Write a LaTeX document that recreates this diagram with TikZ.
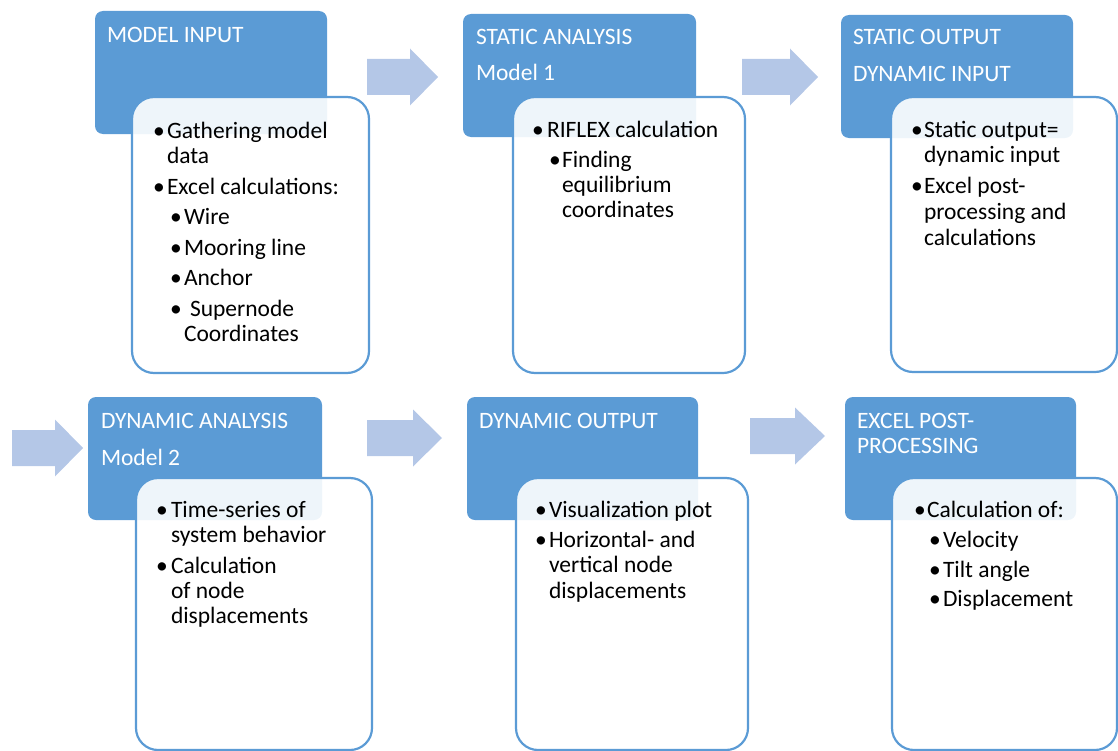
\documentclass[tikz,border=0pt]{standalone}
\usepackage{fontspec}
\setmainfont{Carlito}
\definecolor{boxblue}{HTML}{5B9BD5}
\definecolor{arrowblue}{HTML}{B4C7E7}
% one line of text, placed by its baseline start
\newcommand\tline[4]{\node[txt] (#1) at (#2,#3) {#4};}
% a title line in a blue header box
\newcommand\headline[4]{\node[ttl] (#1) at (#2,#3) {#4};}
% a bullet glyph
\newcommand\bul[3]{\node[txt] (#1) at (#2,#3) {\textbullet};}
% block arrow: shaft start, head start, tip, centre line
\newcommand\blockarrow[4]{%
  \fill[arrowblue] (#1,#4-18) -- (#2,#4-18) -- (#2,#4-28.5) -- (#3,#4)
    -- (#2,#4+28.5) -- (#2,#4+18) -- (#1,#4+18) -- cycle;}
\begin{document}
\begin{tikzpicture}[x=1bp,y=-1bp,
  bluebox/.style={fill=boxblue, rounded corners=8bp, anchor=north west,
    inner sep=0pt, outer sep=0pt, minimum width=232bp, minimum height=123bp},
  whitebox/.style={draw=boxblue, line width=2.2bp, fill=white, fill opacity=0.9,
    draw opacity=1, rounded corners=22bp, anchor=north west, inner sep=0pt,
    outer sep=0pt, minimum width=236bp},
  txt/.style={anchor=base west, inner sep=0pt, outer sep=0pt, text=black,
    font=\fontsize{23.5bp}{28bp}\selectfont},
  ttl/.style={txt, text=white}]
\useasboundingbox (0,0) rectangle (1118,751);

% header boxes
\node[bluebox] (b1) at (95,11) {};
\node[bluebox, minimum width=233bp] (b2) at (463,14) {};
\node[bluebox] (b3) at (841,15) {};
\node[bluebox, minimum width=234bp] (b4) at (88,397) {};
\node[bluebox, minimum width=231bp] (b5) at (467,397) {};
\node[bluebox, minimum width=231bp] (b6) at (845,397) {};

% header titles
\headline{t1}{107}{43}{MODEL INPUT}
\headline{t2a}{476}{45}{STATIC ANALYSIS}
\headline{t2b}{476}{81}{Model 1}
\headline{t3a}{853}{45}{STATIC OUTPUT}
\headline{t3b}{853}{82}{DYNAMIC INPUT}
\headline{t4a}{101}{428}{DYNAMIC ANALYSIS}
\headline{t4b}{101}{465}{Model 2}
\headline{t5}{479}{428}{DYNAMIC OUTPUT}
\headline{t6a}{857}{428}{EXCEL POST-}
\headline{t6b}{857}{453}{PROCESSING}

% flow arrows
\blockarrow{367}{410}{438}{77}
\blockarrow{742}{790}{818}{77}
\blockarrow{12}{55}{83}{448}
\blockarrow{367}{413}{442}{438}
\blockarrow{750}{795}{825}{436}

% content boxes
\node[whitebox, minimum width=237bp, minimum height=276bp] (w1) at (132,97) {};
\node[whitebox, minimum width=232bp, minimum height=276bp] (w2) at (513,97) {};
\node[whitebox, minimum width=226bp, minimum height=275bp] (w3) at (891,97) {};
\node[whitebox, minimum width=236bp, minimum height=272bp] (w4) at (136,478) {};
\node[whitebox, minimum width=232bp, minimum height=272bp] (w5) at (516,478) {};
\node[whitebox, minimum width=225bp, minimum height=272bp] (w6) at (892,478) {};

% content of box 1
\bul{p1a}{153}{138.5}
\tline{l1a}{167}{138.5}{Gathering model}
\tline{l1b}{167}{163.5}{data}
\bul{p1c}{153}{194}
\tline{l1c}{167}{194}{Excel calculations:}
\bul{p1d}{170}{224.5}
\tline{l1d}{184}{224.5}{Wire}
\bul{p1e}{170}{255}
\tline{l1e}{184}{255}{Mooring line}
\bul{p1f}{170}{285.5}
\tline{l1f}{184}{285.5}{Anchor}
\bul{p1g}{170}{316}
\tline{l1g}{190}{316}{Supernode}
\tline{l1h}{184}{341.5}{Coordinates}

% content of box 2
\bul{p2a}{532}{137}
\tline{l2a}{547}{137}{RIFLEX calculation}
\bul{p2b}{549}{167.5}
\tline{l2b}{562}{167.5}{Finding}
\tline{l2c}{562}{192.5}{equilibrium}
\tline{l2d}{562}{217}{coordinates}

% content of box 3
\bul{p3a}{911}{137}
\tline{l3a}{924}{137}{Static output=}
\tline{l3b}{924}{162}{dynamic input}
\bul{p3c}{911}{193}
\tline{l3c}{924}{193}{Excel post-}
\tline{l3d}{924}{219}{processing and}
\tline{l3e}{924}{245}{calculations}

% content of box 4
\bul{p4a}{156}{517}
\tline{l4a}{171}{517}{Time-series of}
\tline{l4b}{171}{542}{system behavior}
\bul{p4c}{156}{573}
\tline{l4c}{171}{573}{Calculation}
\tline{l4d}{171}{598}{of node}
\tline{l4e}{171}{623}{displacements}

% content of box 5
\bul{p5a}{535}{517}
\tline{l5a}{549}{517}{Visualization plot}
\bul{p5b}{535}{547}
\tline{l5b}{549}{547}{Horizontal- and}
\tline{l5c}{549}{572.5}{vertical node}
\tline{l5d}{549}{598}{displacements}

% content of box 6
\bul{p6a}{914}{517}
\tline{l6a}{927}{517}{Calculation of:}
\bul{p6b}{929}{547}
\tline{l6b}{943}{547}{Velocity}
\bul{p6c}{929}{577}
\tline{l6c}{943}{577}{Tilt angle}
\bul{p6d}{929}{606}
\tline{l6d}{943}{606}{Displacement}
\end{tikzpicture}
\end{document}
